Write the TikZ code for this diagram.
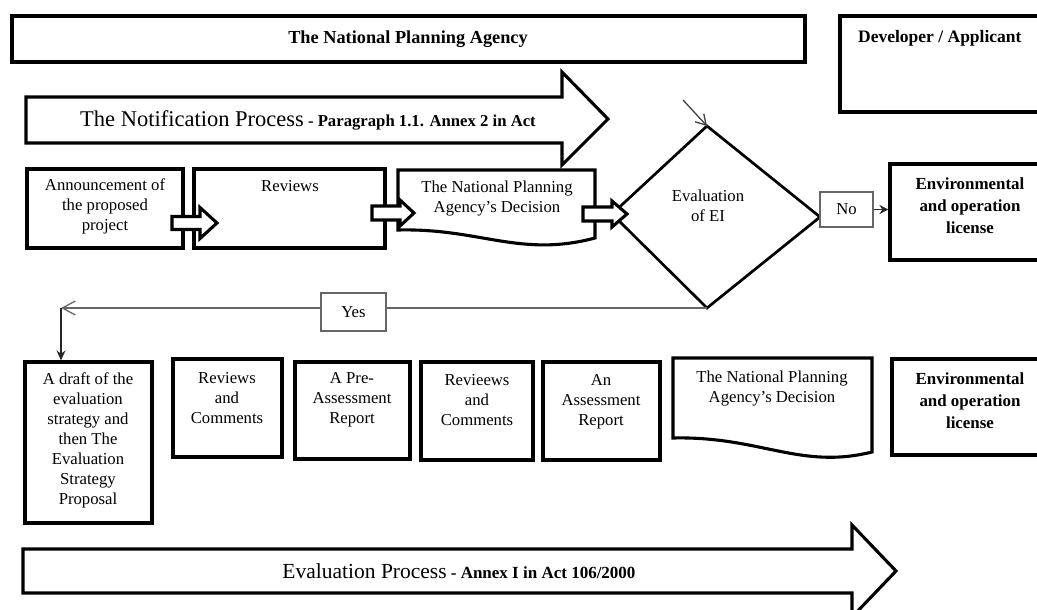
\documentclass[tikz,border=0pt]{standalone}
\usepackage{fontspec}
\setmainfont{Liberation Serif}
\usetikzlibrary{arrows.meta}
\begin{document}
\begin{tikzpicture}[x=1pt,y=-1pt,
  frame/.style={draw, line width=3.1pt, fill=white, rectangle, inner sep=0pt},
  outline/.style={draw, line width=3.1pt, fill=white, line join=miter},
  txt/.style={align=center, font=\fontsize{16.7}{20}\selectfont, inner sep=0pt},
  btxt/.style={align=center, font=\bfseries\fontsize{16.9}{22}\selectfont, inner sep=0pt},
  thinbox/.style={draw=black!60, line width=1.3pt, fill=white, rectangle, inner sep=0pt, align=center, font=\fontsize{16.7}{20}\selectfont},
  conn/.style={draw=black!60, line width=1.3pt}
]
\useasboundingbox (0,0) rectangle (1037,610);
\clip (0,0) rectangle (1037,610);

% top boxes
\node[frame, minimum width=793, minimum height=46] (npa) at (408.5,39) {};
\node[btxt, font=\bfseries\fontsize{18.3}{20}\selectfont] (npa-t) at (408,39) {The National Planning Agency};
\node[frame, minimum width=205, minimum height=96] (dev) at (942.5,64) {};
\node[btxt, anchor=west, font=\bfseries\fontsize{17.5}{20}\selectfont] (dev-t) at (858,38) {Developer / Applicant};

% notification arrow
\draw[outline] (26,97) -- (562,97) -- (562,72) -- (608,119) -- (562,165) -- (562,143) -- (26,143) -- cycle;
\node[txt] (notif-t) at (308,120) {{\fontsize{22.5}{24}\selectfont The Notification Process} {\bfseries\fontsize{16.7}{20}\selectfont - Paragraph 1.1. Annex 2 in Act}};

% row 1
\node[frame, minimum width=156, minimum height=79] (ann) at (105,208.5) {};
\node[txt] (ann-t) at (105,206) {Announcement of\\the proposed\\project};
\node[frame, minimum width=191, minimum height=79] (rev) at (289.5,208.5) {};
\node[txt] (rev-t) at (290,186) {Reviews};
\draw[outline] (398,170) -- (595,170) -- (595,238) .. controls (520,258) and (480,228) .. (398,230) -- cycle;
\coordinate (dec1) at (496,205);
\node[txt] (dec1-t) at (497,199) {The National Planning\\Agency’s Decision};

% diamond
\coordinate (dT) at (707,126);
\coordinate (dR) at (820,217);
\coordinate (dB) at (707,308);
\coordinate (dL) at (612,214);
\draw[outline, line width=2.7pt] (dT) -- (dR) -- (dB) -- (dL) -- cycle;
\node[txt] (ei) at (708,206) {Evaluation\\of EI};
\coordinate (ein) at (683,100);
\draw[conn, draw=black!75, -{Straight Barb[length=10pt,width=12pt]}] (ein) -- (dT);

% block arrows
\draw[outline] (172,216.5) -- (200,216.5) -- (200,207.5) -- (217,223) -- (200,238.5) -- (200,229.5) -- (172,229.5) -- cycle;
\draw[outline] (372,206) -- (400,206) -- (400,200) -- (414,213) -- (400,226) -- (400,220) -- (372,220) -- cycle;
\draw[outline] (583,207) -- (612,207) -- (612,201) -- (627,214) -- (612,227) -- (612,221) -- (583,221) -- cycle;

% No branch
\node[thinbox, minimum width=53, minimum height=35] (no) at (846.5,209.5) {No};
\node[frame, minimum width=155, minimum height=96] (env1) at (967.5,212) {};
\node[btxt] (env1-t) at (970,206) {Environmental\\and operation\\license};
\draw[conn, draw=black!85, -{Stealth[length=9pt,width=9pt]}] (no.east) -- (no.east -| env1.west);

% bottom row
\node[frame, minimum width=127, minimum height=161] (draft) at (88.5,442.5) {};
\node[txt] (draft-t) at (88,440) {A draft of the\\evaluation\\strategy and\\then The\\Evaluation\\Strategy\\Proposal};
\node[frame, minimum width=109, minimum height=98] (rc) at (227.5,408) {};
\node[txt] (rc-t) at (227,398) {Reviews\\and\\Comments};
\node[frame, minimum width=115, minimum height=97] (pre) at (352.5,410.5) {};
\node[txt] (pre-t) at (352,400) {A Pre-\\Assessment\\Report};
\node[frame, minimum width=112, minimum height=98] (rev2) at (477,411) {};
\node[txt] (rev2-t) at (477,400) {Revieews\\and\\Comments};
\node[frame, minimum width=117, minimum height=98] (ass) at (601.5,411) {};
\node[txt] (ass-t) at (601,402) {An\\Assessment\\Report};
\draw[outline] (673,358) -- (872,358) -- (872,452) .. controls (800,470) and (760,436) .. (673,438) -- cycle;
\coordinate (dec2) at (772,400);
\node[txt] (dec2-t) at (772,389) {The National Planning\\Agency’s Decision};
\node[frame, minimum width=153, minimum height=96] (env2) at (968.5,407) {};
\node[btxt] (env2-t) at (970,401) {Environmental\\and operation\\license};

% Yes branch
\coordinate (corner) at (61,308);
\draw[conn, -{Straight Barb[length=13pt,width=14pt]}] (dB) -- (corner);
\node[thinbox, minimum width=65, minimum height=38] (yes) at (353.5,312) {Yes};
\draw[conn, draw=black!85, -{Stealth[length=10pt,width=9pt]}] (corner) -- (corner |- draft.north);

% evaluation arrow
\draw[outline] (23,549) -- (852,549) -- (852,525) -- (896,571) -- (852,617) -- (852,593) -- (23,593) -- cycle;
\node[txt] (eval-t) at (459,571) {{\fontsize{21.5}{24}\selectfont Evaluation Process} {\bfseries\fontsize{17}{18}\selectfont - Annex I in Act 106/2000}};
\end{tikzpicture}
\end{document}
